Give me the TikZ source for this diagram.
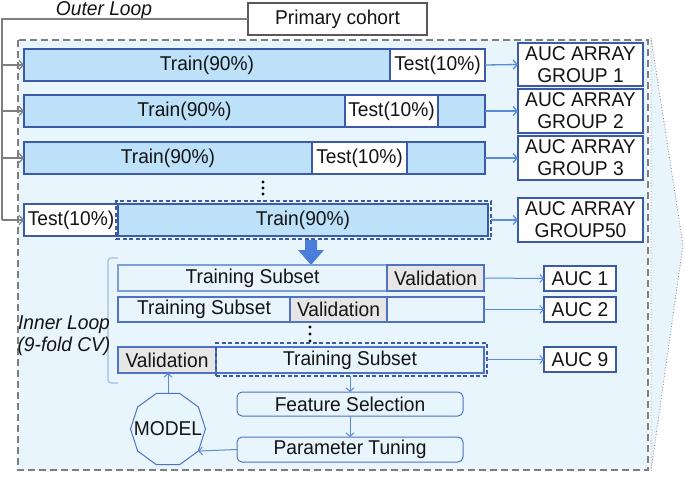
\documentclass[tikz,border=0pt]{standalone}
\usepackage{fontspec}
\setmainfont[FakeStretch=0.96]{Liberation Sans}
\usetikzlibrary{arrows.meta,shapes.geometric}
\definecolor{bg}{HTML}{E8F5FD}
\definecolor{trainfill}{HTML}{BDE1F8}
\definecolor{dblue}{HTML}{3B5BA9}
\definecolor{mblue}{HTML}{4F72C4}
\definecolor{lblue}{HTML}{7E9ED8}
\definecolor{ablue}{HTML}{5A8BDB}
\definecolor{bigarrow}{HTML}{4A7EDA}
\definecolor{valgray}{HTML}{E6E6E6}
\definecolor{ggray}{HTML}{7F7F7F}
\definecolor{brk}{HTML}{A5BDE5}
\definecolor{txt}{HTML}{141414}
\newcommand\fs{\fontsize{20}{22}\selectfont}
\newcommand\bx[7]{\node[#6,minimum width={(#4)-(#2)},minimum height={(#5)-(#3)}] (#1) at ({((#2)+(#4))/2},{((#3)+(#5))/2}) {#7};}
\tikzset{
  base/.style={inner sep=0pt, outer sep=0pt, font=\fs, text=txt},
  bar/.style={base, draw=dblue, line width=2pt, fill=trainfill},
  testbox/.style={base, draw=dblue, line width=2pt, fill=white},
  aucbox/.style={base, draw=dblue, line width=2pt, fill=white, align=center},
  dashout/.style={base, draw=dblue, line width=1.3pt, dash pattern=on 4pt off 2.5pt},
  ibar/.style={base, draw=mblue, line width=1.4pt, fill=bg},
  ibarl/.style={base, draw=lblue, line width=1.2pt, fill=bg},
  ival/.style={base, draw=mblue, line width=1.4pt, fill=valgray},
  iauc/.style={base, draw=dblue, line width=1.5pt, fill=white},
  proc/.style={base, draw=mblue, line width=1pt, rounded corners=5pt},
  barrow/.style={-{Straight Barb[length=4pt,width=9pt]}, draw=ablue, line width=1.3pt},
  tarrow/.style={-{Straight Barb[length=3.5pt,width=8pt]}, draw=ablue, line width=1pt},
  gline/.style={draw=ggray, line width=1.2pt},
  garrow/.style={-{Straight Barb[length=4pt,width=9pt]}, draw=ggray, line width=1.2pt},
}
\begin{document}
\begin{tikzpicture}[x=1pt,y=-1pt]
\useasboundingbox (0,0) rectangle (685,477);
% trapezoid and dashed frame
\fill[bg] (651,38) -- (683,245) -- (651,471) -- cycle;
\draw[ggray, line width=0.8pt, dotted] (651,38) -- (683,245) -- (651,471) -- cycle;
\draw[ggray, line width=1.3pt, dash pattern=on 7pt off 4pt, fill=bg] (18,40) rectangle (648,470);
% primary cohort
\node[base, draw=ggray!70!black, line width=1.5pt, fill=white, minimum width=179, minimum height=32] (pc) at (337.5,19) {Primary cohort};
\node[base, font=\fs\itshape, anchor=base] (ol) at (104,15) {Outer Loop};
% outer rows
\bx{r1}{24}{49}{485}{81}{bar}{}
\bx{tr1}{24}{49}{390}{81}{bar}{Train(90\%)}
\bx{t1}{390}{49}{485}{81}{testbox}{Test(10\%)}
\bx{r2}{24}{95}{485}{127}{bar}{}
\bx{tr2}{24}{95}{345}{127}{bar}{Train(90\%)}
\bx{t2}{345}{95}{438}{127}{testbox}{Test(10\%)}
\bx{r3}{24}{142}{485}{174}{bar}{}
\bx{tr3}{24}{142}{312}{174}{bar}{Train(90\%)}
\bx{t3}{312}{142}{407}{174}{testbox}{Test(10\%)}
\bx{r4}{24}{204}{488}{236}{bar}{}
\bx{t4}{24}{204}{118}{236}{testbox}{Test(10\%)}
\bx{tr4}{118}{204}{488}{236}{bar}{Train(90\%)}
\bx{d4}{116}{201}{491}{239}{dashout}{}
% AUC arrays
\bx{g1}{518}{43}{643}{86}{aucbox}{AUC ARRAY\\GROUP 1}
\bx{g2}{518}{89}{643}{133}{aucbox}{AUC ARRAY\\GROUP 2}
\bx{g3}{518}{136}{643}{180}{aucbox}{AUC ARRAY\\GROUP 3}
\bx{g4}{518}{198}{643}{242}{aucbox}{AUC ARRAY\\GROUP50}
\draw[barrow] (r1.east) -- (g1.west);
\draw[barrow] (r2.east) -- (g2.west);
\draw[barrow] (r3.east) -- (g3.west);
\draw[barrow] (d4.east) -- (g4.west);
% outer loop connectors
\coordinate (lt) at (2,19);
\coordinate (lb) at (2,220);
\draw[gline] (pc.west) -- (lt) -- (lb);
\draw[garrow] (lt |- r1.west) -- (r1.west);
\draw[garrow] (lt |- r2.west) -- (r2.west);
\draw[garrow] (lt |- r3.west) -- (r3.west);
\draw[garrow] (lb) -- (r4.west);
% dots
\foreach \yy in {182,188,194} \fill[black] (263,\yy) circle (1.6);
% big arrow
\fill[bigarrow] (305,240) -- (317,240) -- (317,250) -- (324,250) -- (311,265) -- (298,250) -- (305,250) -- cycle;
% inner bracket
\draw[brk, line width=1.2pt, rounded corners=3pt] (118,258) -- (108,258) -- (108,383) -- (118,383);
\node[base, font=\fs\itshape, align=center] (il) at (64,336) {Inner Loop\\(9-fold CV)};
% inner rows
\bx{i1}{118}{265}{484}{291}{ibarl}{}
\bx{s1}{118}{265}{387}{291}{base}{Training Subset}
\bx{v1}{387}{265}{484}{291}{ival}{Validation}
\bx{i2}{118}{297}{484}{322}{ibar}{}
\bx{s2}{118}{297}{290}{322}{ibar}{Training Subset}
\bx{v2}{290}{297}{387}{322}{ival}{Validation}
\bx{i9}{118}{347}{484}{373}{ibar}{}
\bx{v9}{118}{347}{216}{373}{ival}{Validation}
\bx{s9}{216}{347}{484}{373}{ibar}{Training Subset}
\bx{d9}{216}{343}{487}{376}{dashout}{}
\foreach \yy in {327,334,341} \fill[black] (310,\yy) circle (1.6);
% inner AUC
\bx{a1}{544}{266}{616}{291}{iauc}{AUC 1}
\bx{a2}{544}{297}{616}{322}{iauc}{AUC 2}
\bx{a9}{544}{347}{616}{372}{iauc}{AUC 9}
\draw[tarrow] (i1.east) -- (a1.west);
\draw[tarrow] (i2.east) -- (a2.west);
\draw[tarrow] (d9.east) -- (a9.west);
% process
\bx{fs}{237}{392}{463}{416}{proc}{Feature Selection}
\bx{pt}{237}{437}{463}{462}{proc}{Parameter Tuning}
\node[base, regular polygon, regular polygon sides=10, minimum size=75, draw=mblue, line width=1pt] (model) at (168,429) {};
\node[base] (modeltext) at (model.center) {MODEL};
\draw[tarrow] (fs.north |- d9.south) -- (fs.north);
\draw[tarrow] (fs.south) -- (pt.north);
\draw[tarrow] (pt.west) -- (model.-36);
\draw[tarrow] (model.north) -- (model.north |- v9.south);
\end{tikzpicture}
\end{document}
